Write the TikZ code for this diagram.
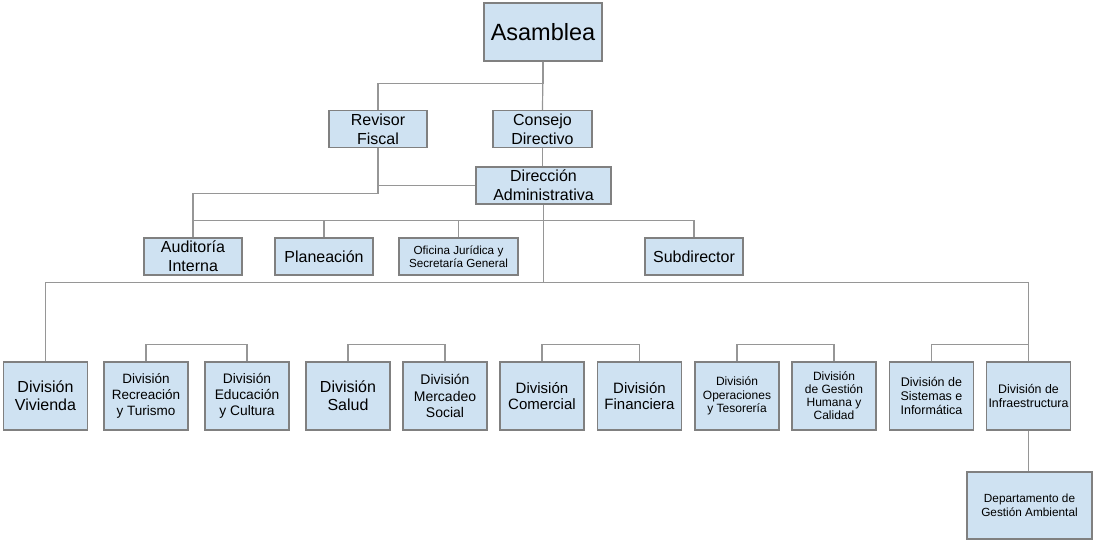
\documentclass[tikz,border=0pt]{standalone}
\usepackage{fontspec}
\setmainfont{Liberation Sans}
\definecolor{boxfill}{RGB}{207,226,242}
\definecolor{boxline}{RGB}{128,128,128}
\definecolor{wire}{RGB}{150,150,150}
\begin{document}
\begin{tikzpicture}[x=1pt,y=-1pt,
    unit/.style = {draw=boxline,fill=boxfill,line width=1.3pt,inner sep=0pt,align=center},
    top/.style = {unit,minimum width=98pt,minimum height=37pt,font=\fontsize{16}{19}\selectfont},
    div/.style = {unit,minimum width=84pt,minimum height=68pt},
    wire/.style = {draw=wire,line width=1.2pt}]
    \useasboundingbox (0,0) rectangle (1093,542);

    \node[unit,minimum width=118pt,minimum height=58pt,font=\fontsize{23.5}{28}\selectfont]
        (asam) at (543,32) {Asamblea};
    \node[top] (revisor) at (378,129) {Revisor\\Fiscal};
    \node[top,minimum width=99pt] (consejo) at (542.5,129) {Consejo\\Directivo};
    \node[top,minimum width=135pt] (direccion) at (543.5,185.5) {Dirección\\Administrativa};

    \node[top] (auditoria) at (193,256.5) {Auditoría\\Interna};
    \node[top] (planeacion) at (324,256.5) {Planeación};
    \node[top,minimum width=119pt,font=\fontsize{11.7}{13.3}\selectfont]
        (oficina) at (458.5,256.5) {Oficina Jurídica y\\Secretaría General};
    \node[top] (subdir) at (694,256.5) {Subdirector};

    \node[div,font=\fontsize{16}{18}\selectfont] (vivienda) at (45.5,396) {División\\Vivienda};
    \node[div,font=\fontsize{13.5}{16}\selectfont] (recreacion) at (146,396) {División\\Recreación\\y Turismo};
    \node[div,font=\fontsize{13.8}{16}\selectfont] (educacion) at (247,396) {División\\Educación\\y Cultura};
    \node[div,font=\fontsize{16}{18}\selectfont] (salud) at (348,396) {División\\Salud};
    \node[div,font=\fontsize{14}{16.2}\selectfont] (mercadeo) at (445,396) {División\\Mercadeo\\Social};
    \node[div,font=\fontsize{15}{16.8}\selectfont] (comercial) at (542,396) {División\\Comercial};
    \node[div,font=\fontsize{15}{16.8}\selectfont] (financiera) at (639.5,396) {División\\Financiera};
    \node[div,font=\fontsize{12}{13.4}\selectfont] (operaciones) at (737,396) {División\\Operaciones\\y Tesorería};
    \node[div,font=\fontsize{12}{13}\selectfont] (gestion) at (834,396) {División\\de Gestión\\Humana y\\Calidad};
    \node[div,font=\fontsize{12.5}{13.6}\selectfont] (sistemas) at (931.5,396) {División de\\Sistemas e\\Informática};
    \node[div,font=\fontsize{12.4}{14}\selectfont] (infra) at (1028.5,396) {División de\\Infraestructura};
    \node[div,minimum width=125pt,minimum height=67pt,font=\fontsize{11.8}{14}\selectfont]
        (depto) at (1029.5,505.5) {Departamento de\\Gestión Ambiental};

    \draw[wire] (asam.south) -- (consejo.north);
    \draw[wire] (revisor.north) -- ++(0,-26) -| (asam.south);
    \draw[wire] (consejo.south) -- (consejo.south |- direccion.north);
    \draw[wire] (revisor.south) -- ++(0,45) -| (auditoria.north);
    \draw[wire] (direccion.west) -- (direccion.west -| revisor.south);
    \draw[wire] (auditoria.north) -- ++(0,-17) -| (subdir.north);
    \foreach \n in {planeacion,oficina}
        \draw[wire] (\n.north) -- ++(0,-17);
    \draw[wire] (vivienda.north) -- ++(0,-79) coordinate (mainbus) -| (infra.north);
    \draw[wire] (direccion.south) -- (direccion.south |- mainbus);
    \foreach \a/\b in {recreacion/educacion,salud/mercadeo,comercial/financiera,operaciones/gestion,sistemas/infra}
        \draw[wire] (\a.north) -- ++(0,-17) -| (\b.north);
    \draw[wire] (infra.south) -- (infra.south |- depto.north);
\end{tikzpicture}
\end{document}
